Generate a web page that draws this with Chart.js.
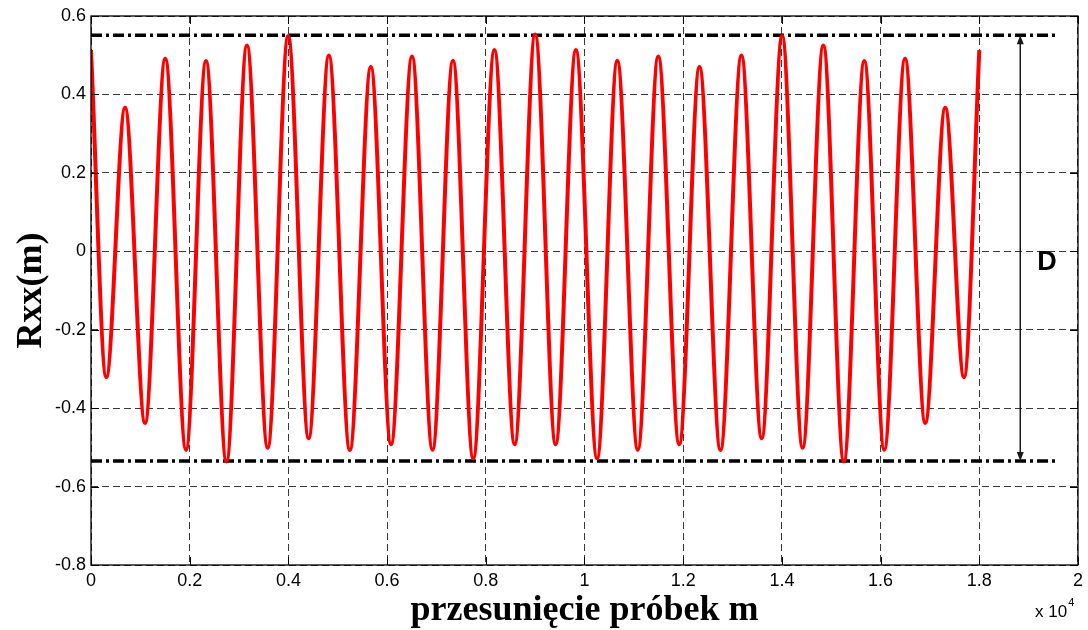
<!DOCTYPE html>
<html>
<head>
<meta charset="utf-8">
<script src="https://cdn.jsdelivr.net/npm/chart.js@4.4.0/dist/chart.umd.min.js"></script>
<style>
  html, body { margin: 0; padding: 0; background: #fff; }
  #wrap { width: 1088px; height: 630px; }
</style>
</head>
<body>
<div id="wrap"><canvas id="rxxChart" width="1088" height="630"></canvas></div>
<script>
document.addEventListener("DOMContentLoaded", () => {

  // ===== DATA (turning points of Rxx(m)) =====
  const lagSamples = [
    0, 310, 690, 1095, 1505, 1925, 2330, 2745, 3160, 3580,
    3995, 4410, 4820, 5245, 5670, 6080, 6505, 6920, 7335, 7745,
    8175, 8585, 9000, 9415, 9825, 10255, 10665, 11080, 11495, 11920,
    12330, 12755, 13180, 13590, 14005, 14420, 14840, 15255, 15670, 16075,
    16495, 16905, 17310, 17690, 18000
  ];
  const rxxValues = [
    0.513, -0.321, 0.366, -0.438, 0.491, -0.506, 0.485, -0.536, 0.525, -0.501,
    0.549, -0.477, 0.499, -0.507, 0.470, -0.492, 0.497, -0.506, 0.486, -0.528,
    0.513, -0.492, 0.553, -0.492, 0.513, -0.528, 0.486, -0.506, 0.497, -0.492,
    0.470, -0.507, 0.499, -0.477, 0.549, -0.501, 0.525, -0.536, 0.485, -0.506,
    0.491, -0.438, 0.366, -0.321, 0.513
  ];

  // dash-dot envelope lines and the "D" arrow
  const levelLags = [0, 19600];
  const upperLevel = [0.551, 0.551];
  const lowerLevel = [-0.535, -0.535];
  const arrowLag = 18830;

  // ticks
  const xTicks = [0, 2000, 4000, 6000, 8000, 10000, 12000, 14000, 16000, 18000, 20000];
  const xTickLabels = ["0", "0.2", "0.4", "0.6", "0.8", "1", "1.2", "1.4", "1.6", "1.8", "2"];
  const yTicks = [-0.8, -0.6, -0.4, -0.2, 0, 0.2, 0.4, 0.6];
  const yTickLabels = ["-0.8", "-0.6", "-0.4", "-0.2", "0", "0.2", "0.4", "0.6"];

  const SANS = '"Liberation Sans", Arial, sans-serif';
  const SERIF = '"Liberation Serif", "Times New Roman", serif';

  const toPoints = (xs, ys) => xs.map((x, i) => ({ x: x, y: ys[i] }));

  // ===== FRAME, TICKS, ARROW, TEXT =====
  const framePlugin = {
    id: "frame",
    afterDatasetsDraw(chart) {
      const { ctx, chartArea: a, scales } = chart;
      const xs = scales.x, ys = scales.y;
      ctx.save();

      // box
      ctx.strokeStyle = "#000";
      ctx.lineWidth = 1.3;
      ctx.setLineDash([]);
      ctx.strokeRect(a.left, a.top, a.right - a.left, a.bottom - a.top);

      // inward ticks
      const tl = 8;
      ctx.beginPath();
      xTicks.forEach(v => {
        const px = Math.round(xs.getPixelForValue(v)) + 0.5;
        ctx.moveTo(px, a.bottom); ctx.lineTo(px, a.bottom - tl);
        ctx.moveTo(px, a.top); ctx.lineTo(px, a.top + tl);
      });
      yTicks.forEach(v => {
        const py = Math.round(ys.getPixelForValue(v)) + 0.5;
        ctx.moveTo(a.left, py); ctx.lineTo(a.left + tl, py);
        ctx.moveTo(a.right, py); ctx.lineTo(a.right - tl, py);
      });
      ctx.lineWidth = 1;
      ctx.stroke();

      // double arrow between the two levels
      const ax = xs.getPixelForValue(arrowLag);
      const yTop = ys.getPixelForValue(upperLevel[0]);
      const yBot = ys.getPixelForValue(lowerLevel[0]);
      const head = 9, half = 3.5;
      ctx.strokeStyle = "#1a1a1a";
      ctx.fillStyle = "#1a1a1a";
      ctx.lineWidth = 1.5;
      ctx.beginPath();
      ctx.moveTo(ax, yTop + head - 1);
      ctx.lineTo(ax, yBot - head + 1);
      ctx.stroke();
      ctx.beginPath();
      ctx.moveTo(ax, yTop); ctx.lineTo(ax - half, yTop + head); ctx.lineTo(ax + half, yTop + head);
      ctx.closePath(); ctx.fill();
      ctx.beginPath();
      ctx.moveTo(ax, yBot); ctx.lineTo(ax - half, yBot - head); ctx.lineTo(ax + half, yBot - head);
      ctx.closePath(); ctx.fill();

      // "D" label
      ctx.fillStyle = "#000";
      ctx.font = "bold 27px " + SANS;
      ctx.textAlign = "center";
      ctx.textBaseline = "middle";
      ctx.fillText("D", 1047, 263);

      // exponent "x 10^4"
      ctx.textAlign = "left";
      ctx.textBaseline = "alphabetic";
      ctx.font = "17px " + SANS;
      ctx.fillText("x 10", 1035, 617);
      const w = ctx.measureText("x 10").width;
      ctx.font = "11px " + SANS;
      ctx.fillText("4", 1035 + w + 1, 606);

      // axis titles
      ctx.font = "bold 36px " + SERIF;
      ctx.textAlign = "center";
      ctx.fillText("przesunięcie próbek m", (a.left + a.right) / 2, 620);
      ctx.save();
      ctx.translate(41, (a.top + a.bottom) / 2);
      ctx.rotate(-Math.PI / 2);
      ctx.fillText("Rxx(m)", 0, 0);
      ctx.restore();

      ctx.restore();
    }
  };

  // ===== CHART =====
  new Chart(document.getElementById("rxxChart"), {
    type: "line",
    data: {
      datasets: [
        {
          data: toPoints(lagSamples, rxxValues),
          borderColor: "#ff0000",
          borderWidth: 4,
          pointRadius: 0,
          cubicInterpolationMode: "monotone",
          fill: false
        },
        {
          data: toPoints(levelLags, upperLevel),
          borderColor: "#000",
          borderWidth: 3.5,
          borderDash: [11, 4, 3, 4],
          pointRadius: 0,
          fill: false
        },
        {
          data: toPoints(levelLags, lowerLevel),
          borderColor: "#000",
          borderWidth: 3.5,
          borderDash: [11, 4, 3, 4],
          pointRadius: 0,
          fill: false
        }
      ]
    },
    options: {
      responsive: false,
      animation: false,
      devicePixelRatio: 1,
      layout: { padding: { top: 16, right: 8, left: 0, bottom: 0 } },
      plugins: {
        legend: { display: false },
        tooltip: { enabled: false }
      },
      scales: {
        x: {
          type: "linear",
          min: 0,
          max: 20000,
          afterBuildTicks: s => { s.ticks = xTicks.map(v => ({ value: v })); },
          afterFit: s => { s.height = 65; },
          ticks: {
            color: "#000",
            padding: 5,
            maxRotation: 0,
            autoSkip: false,
            font: { family: SANS, size: 18 },
            callback: (v, i) => xTickLabels[i]
          },
          grid: { color: "#3a3a3a", lineWidth: 1, drawTicks: false },
          border: { display: false, dash: [7, 4] }
        },
        y: {
          type: "linear",
          min: -0.8,
          max: 0.6,
          afterBuildTicks: s => { s.ticks = yTicks.map(v => ({ value: v })); },
          afterFit: s => { s.width = 91; },
          ticks: {
            color: "#000",
            padding: 5,
            autoSkip: false,
            font: { family: SANS, size: 18 },
            callback: (v, i) => yTickLabels[i]
          },
          grid: { color: "#3a3a3a", lineWidth: 1, drawTicks: false },
          border: { display: false, dash: [7, 4] }
        }
      }
    },
    plugins: [framePlugin]
  });
});
</script>
</body>
</html>
